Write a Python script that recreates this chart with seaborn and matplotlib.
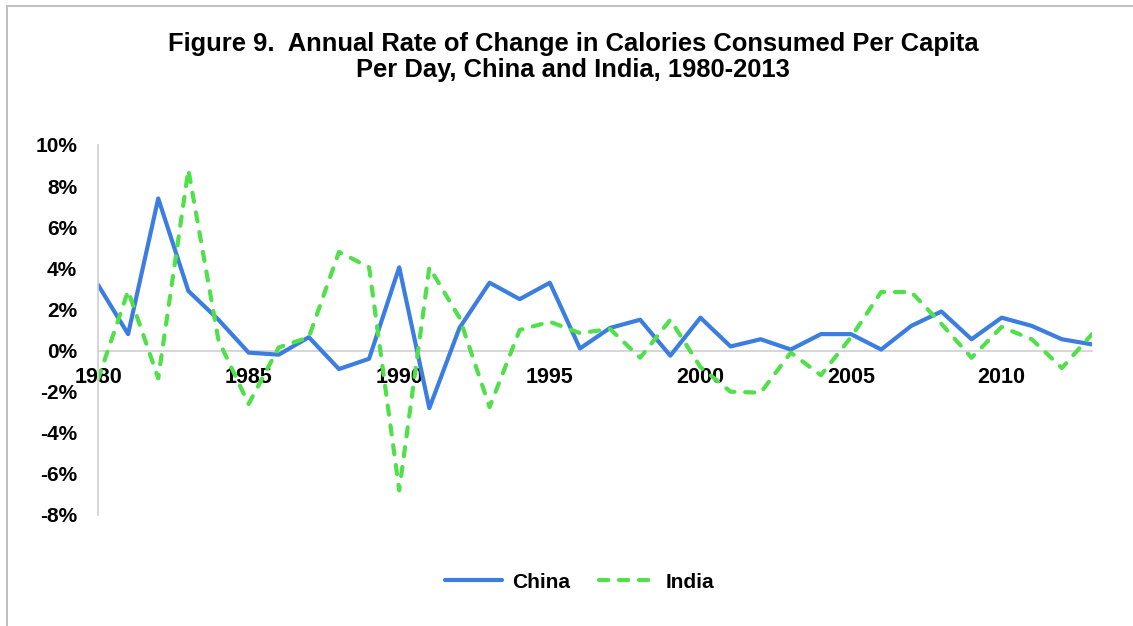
import numpy as np
import pandas as pd
import matplotlib
matplotlib.use("Agg")
import matplotlib.pyplot as plt
from matplotlib.lines import Line2D
from matplotlib.ticker import FuncFormatter
import seaborn as sns

# --- datos (cambio anual, %) ---
years = list(range(1980, 2014))
china = [3.2, 0.8, 7.4, 2.9, 1.5, -0.1, -0.2, 0.65, -0.9, -0.4,
         4.05, -2.8, 1.1, 3.3, 2.5, 3.3, 0.1, 1.1, 1.5, -0.25,
         1.6, 0.2, 0.55, 0.05, 0.8, 0.8, 0.05, 1.2, 1.9, 0.55,
         1.6, 1.2, 0.55, 0.3]
india = [-1.4, 2.9, -1.35, 8.8, 0.5, -2.6, 0.15, 0.65, 4.8, 4.05,
         -6.8, 4.05, 1.6, -2.75, 1.0, 1.4, 0.85, 1.05, -0.35, 1.5,
         -0.8, -2.0, -2.05, -0.1, -1.2, 0.65, 2.85, 2.85, 1.3, -0.35,
         1.15, 0.55, -0.85, 0.8]
year_ticks = [1980, 1985, 1990, 1995, 2000, 2005, 2010]
pct_ticks = [-8, -6, -4, -2, 0, 2, 4, 6, 8, 10]

title_1 = "Figure 9.  Annual Rate of Change in Calories Consumed Per Capita"
title_2 = "Per Day, China and India, 1980-2013"

df = pd.DataFrame({
    "year": years * 2,
    "value": china + india,
    "country": ["China"] * len(years) + ["India"] * len(years),
})

colores = {"China": "#3b7de0", "India": "#50e04a"}

sns.set_style("white")
plt.rcParams["font.family"] = ["Liberation Sans", "DejaVu Sans"]
plt.rcParams["text.color"] = "black"
plt.rcParams["xtick.color"] = "black"
plt.rcParams["ytick.color"] = "black"

fig = plt.figure(figsize=(11.33, 6.26), dpi=100)
ax = fig.add_axes([98 / 1133, 1 - 515 / 626, 994 / 1133, 370 / 626])

sns.lineplot(data=df, x="year", y="value", hue="country", style="country",
             palette=colores, dashes={"China": "", "India": (2.2, 2.6)},
             linewidth=3, ax=ax, legend=False)
for ln in ax.lines:
    ln.set_dash_capstyle("round")
    ln.set_solid_capstyle("round")

ax.set_xlim(1980, 2013)
ax.set_ylim(-8, 10)
ax.set_xticks(year_ticks)
ax.set_yticks(pct_ticks)
ax.yaxis.set_major_formatter(FuncFormatter(lambda v, p: f"{v:.0f}%"))
ax.set_xlabel("")
ax.set_ylabel("")

for s in ["top", "right"]:
    ax.spines[s].set_visible(False)
ax.spines["bottom"].set_position(("data", 0))
ax.spines["bottom"].set_color("#d0d0d0")
ax.spines["bottom"].set_linewidth(1.2)
ax.spines["left"].set_color("#d0d0d0")
ax.spines["left"].set_linewidth(1.2)
ax.spines["bottom"].set_zorder(0)

ax.tick_params(axis="x", length=0, pad=12, labelsize=15.5)
ax.tick_params(axis="y", length=0, pad=15, labelsize=15)
for lbl in ax.get_xticklabels() + ax.get_yticklabels():
    lbl.set_fontweight("bold")

# titulo
fig.text(0.506, 1 - 44 / 626, title_1, ha="center", va="center",
         fontsize=18.4, fontweight="bold")
fig.text(0.506, 1 - 70 / 626, title_2, ha="center", va="center",
         fontsize=18.4, fontweight="bold")

# leyenda
handles = [
    Line2D([], [], color=colores["China"], lw=3, solid_capstyle="round"),
    Line2D([], [], color=colores["India"], lw=3, dashes=(2.2, 2.6),
           dash_capstyle="round"),
]
leg = fig.legend(handles, ["China", "India"], loc="center",
                 bbox_to_anchor=(580 / 1133, 1 - 582 / 626), ncol=2,
                 frameon=False, handlelength=2.7, handletextpad=0.5,
                 columnspacing=1.4, prop={"weight": "bold", "size": 15})

# borde gris
fig.add_artist(Line2D([7 / 1133, 1], [1 - 6 / 626, 1 - 6 / 626],
                      transform=fig.transFigure, color="#c0c0c0", lw=1.5))
fig.add_artist(Line2D([7 / 1133, 7 / 1133], [0, 1 - 6 / 626],
                      transform=fig.transFigure, color="#c0c0c0", lw=1.5))

fig.savefig("out.png", dpi=100)
